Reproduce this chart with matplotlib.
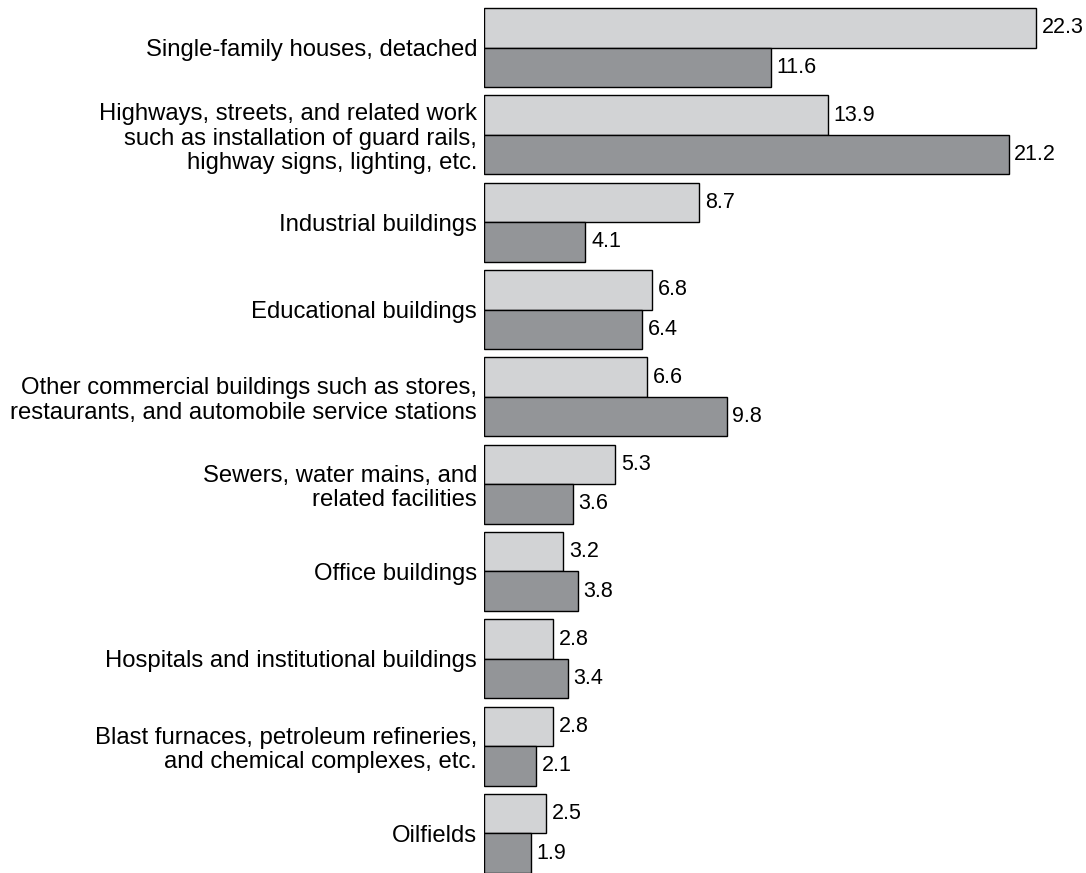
import numpy as np
import matplotlib.pyplot as plt

plt.rcParams['font.family'] = ['Liberation Sans', 'DejaVu Sans']

# categories (top to bottom)
categories = [
    "Single-family houses, detached",
    "Highways, streets, and related work\nsuch as installation of guard rails,\nhighway signs, lighting, etc.",
    "Industrial buildings",
    "Educational buildings",
    "Other commercial buildings such as stores,\nrestaurants, and automobile service stations",
    "Sewers, water mains, and\nrelated facilities",
    "Office buildings",
    "Hospitals and institutional buildings",
    "Blast furnaces, petroleum refineries,\nand chemical complexes, etc.",
    "Oilfields",
]
# upper (light) and lower (dark) bar of each pair
light_values = [22.3, 13.9, 8.7, 6.8, 6.6, 5.3, 3.2, 2.8, 2.8, 2.5]
dark_values = [11.6, 21.2, 4.1, 6.4, 9.8, 3.6, 3.8, 3.4, 2.1, 1.9]

W, H = 1086, 873
fig = plt.figure(figsize=(W / 100, H / 100), dpi=100)
left_px = 484
ax = fig.add_axes([left_px / W, 0, 1 - left_px / W, 1])

y = np.arange(len(categories))
h = 0.4525

light = ax.barh(y - h / 2, light_values, height=h, color='#d2d3d5',
                edgecolor='black', linewidth=1.0)
dark = ax.barh(y + h / 2, dark_values, height=h, color='#939598',
               edgecolor='black', linewidth=1.0)

ax.bar_label(light, fmt='%.1f', padding=4, fontsize=15.5)
ax.bar_label(dark, fmt='%.1f', padding=4, fontsize=15.5)

px_per_unit = 24.75
ax.set_xlim(0, (W - left_px) / px_per_unit)
ax.set_ylim(9 + h, -h - 8 / 87.3)

ax.set_yticks(y)
ax.set_yticklabels(categories, fontsize=17.2, linespacing=1.15)
ax.tick_params(axis='y', length=0, pad=5)
ax.set_xticks([])
for s in ax.spines.values():
    s.set_visible(False)

fig.savefig('out.png', dpi=100)
